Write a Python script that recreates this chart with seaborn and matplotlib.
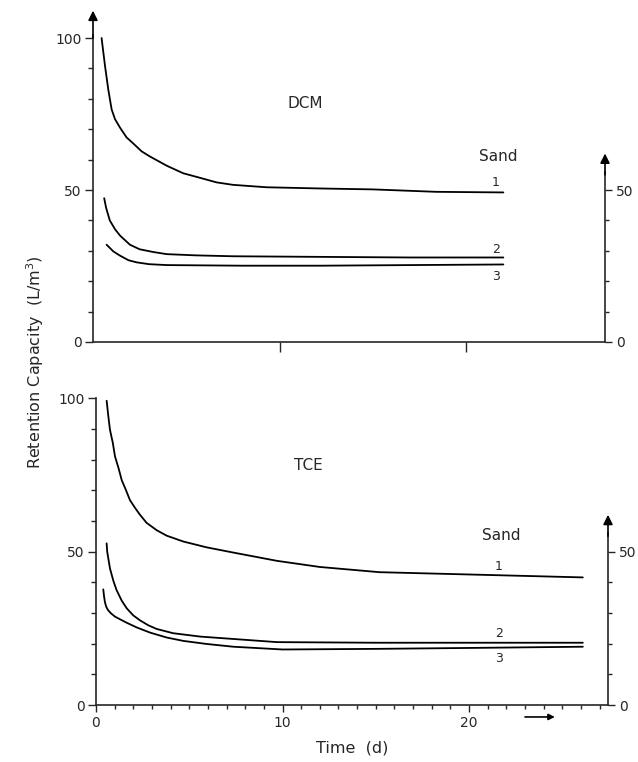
import numpy as np
import pandas as pd
import seaborn as sns
import matplotlib.pyplot as plt
from matplotlib.ticker import FixedLocator, NullFormatter

# DCM panel (top)
dcm_t1 = [0.46, 0.64, 0.82, 1.0, 1.18, 1.45, 1.8, 2.16, 2.61, 3.06, 3.95, 4.84, 5.74,
          6.63, 7.5, 9.3, 12.2, 15.0, 18.4, 22.0]
dcm_v1 = [100, 91, 83, 76.5, 73.3, 70.5, 67.3, 65.3, 62.7, 61, 58, 55.5, 54,
          52.5, 51.7, 50.9, 50.5, 50.2, 49.4, 49.2]
dcm_t2 = [0.6, 0.7, 0.9, 1.18, 1.45, 1.98, 2.5, 3.23, 3.95, 5.5, 7.5, 12.2, 17.0, 22.0]
dcm_v2 = [47.3, 44.2, 40, 37.1, 35, 32, 30.5, 29.6, 28.9, 28.5, 28.2, 28.0, 27.8, 27.8]
dcm_t3 = [0.73, 1.09, 1.45, 1.9, 2.34, 3.0, 3.95, 8.0, 12.2, 17.0, 22.0]
dcm_v3 = [32, 29.8, 28.4, 26.9, 26.2, 25.6, 25.3, 25.1, 25.1, 25.3, 25.5]

# TCE panel (bottom)
tce_t1 = [0.57, 0.66, 0.75, 0.9, 1.02, 1.2, 1.38, 1.59, 1.82, 2.09, 2.36, 2.71, 3.25,
          3.79, 4.68, 5.93, 7.36, 9.7, 12.0, 15.2, 19.7, 26.1]
tce_v1 = [99.2, 94.2, 89.7, 85.5, 81, 77.4, 73.3, 70.3, 66.8, 64.3, 62, 59.4, 57,
          55.2, 53.3, 51.4, 49.7, 47, 45, 43.3, 42.6, 41.6]
tce_t2 = [0.57, 0.6, 0.75, 0.93, 1.1, 1.38, 1.65, 2.0, 2.36, 2.8, 3.25, 4.14, 5.6, 9.7,
          15.0, 20.0, 26.1]
tce_v2 = [52.7, 50, 44.5, 40.5, 37.5, 34, 31.5, 29.2, 27.6, 26.0, 24.8, 23.4, 22.3, 20.5,
          20.3, 20.3, 20.3]
tce_t3 = [0.39, 0.43, 0.48, 0.55, 0.65, 0.8, 1.02, 1.65, 2.18, 2.9, 3.79, 4.68, 5.93, 7.36,
          10.0, 15.0, 20.0, 26.1]
tce_v3 = [37.7, 35.5, 33.5, 32.0, 30.9, 29.9, 28.8, 26.8, 25.3, 23.6, 22.0, 20.9, 19.9, 19.0,
          18.1, 18.3, 18.6, 19.0]

sand_labels = ['1', '2', '3']
x_ticks = [0, 10, 20]


def long_form(ts, vs):
    frames = []
    for lab, t, v in zip(sand_labels, ts, vs):
        frames.append(pd.DataFrame({'time': t, 'cap': v, 'sand': lab}))
    return pd.concat(frames, ignore_index=True)


dcm = long_form([dcm_t1, dcm_t2, dcm_t3], [dcm_v1, dcm_v2, dcm_v3])
tce = long_form([tce_t1, tce_t2, tce_t3], [tce_v1, tce_v2, tce_v3])

sns.set_style('ticks')
plt.rcParams['font.family'] = ['DejaVu Sans']
plt.rcParams['font.size'] = 10

XMAX = 27.45
fig = plt.figure(figsize=(6.38, 7.62), dpi=100)
ax_top = fig.add_axes([93 / 638, 0.5512, 512 / 638, 0.4388])
ax_bot = fig.add_axes([96 / 638, 0.0748, 512 / 638, 319 / 762])


def style_panel(ax, df, ymax, left_arrow, name, name_y, sand_y, num_y, bottom):
    ax.set_facecolor('none')
    sns.lineplot(data=df, x='time', y='cap', units='sand', estimator=None,
                 color='black', linewidth=1.3, ax=ax, legend=False)
    ax.set_xlim(0, XMAX)
    ax.set_ylim(0, ymax)
    ax.set_xlabel('')
    ax.set_ylabel('')
    ax.spines['top'].set_visible(False)
    ax.spines['right'].set_visible(False)
    for s in ('left', 'bottom'):
        ax.spines[s].set_linewidth(1.2)
    ax.spines['left'].set_bounds(0, 101 if left_arrow else 100)
    ax.set_yticks([0, 50, 100])
    ax.yaxis.set_minor_locator(FixedLocator([10, 20, 30, 40, 60, 70, 80, 90]))
    ax.tick_params(axis='y', which='major', length=6, width=1.0, labelsize=10, pad=2)
    ax.tick_params(axis='y', which='minor', length=3.5, width=1.0)
    if bottom:
        ax.set_xticks(x_ticks)
        ax.xaxis.set_minor_locator(FixedLocator(np.arange(1, 28, 1)))
        ax.tick_params(axis='x', which='major', length=5, width=1.0, labelsize=10, pad=3)
        ax.tick_params(axis='x', which='minor', length=3, width=1.0)
    else:
        ax.set_xticks([10, 20])
        ax.xaxis.set_major_formatter(NullFormatter())
        ax.tick_params(axis='x', which='major', length=7, width=1.0)
    if left_arrow:
        ax.annotate('', xy=(0, 109), xytext=(0, 100),
                    arrowprops=dict(arrowstyle='-|>', color='black', lw=1.2,
                                    mutation_scale=14, shrinkA=0, shrinkB=0),
                    annotation_clip=False)

    # right hand axis
    axr = ax.twinx()
    axr.set_ylim(0, ymax)
    for s in ('top', 'left', 'bottom'):
        axr.spines[s].set_visible(False)
    axr.spines['right'].set_linewidth(1.2)
    axr.spines['right'].set_bounds(0, 56)
    axr.set_yticks([0, 50])
    axr.yaxis.set_minor_locator(FixedLocator([10, 20, 30, 40]))
    axr.tick_params(axis='y', which='major', length=5, width=1.0, labelsize=10, pad=3)
    axr.tick_params(axis='y', which='minor', length=3, width=1.0)
    axr.annotate('', xy=(XMAX, 62), xytext=(XMAX, 55),
                 arrowprops=dict(arrowstyle='-|>', color='black', lw=1.2,
                                 mutation_scale=14, shrinkA=0, shrinkB=0),
                 annotation_clip=False)

    ax.text(11.4, name_y, name, ha='center', va='center', fontsize=11)
    ax.text(21.7, sand_y, 'Sand', ha='center', va='center', fontsize=11)
    for lab, y in zip(sand_labels, num_y):
        ax.text(21.6, y, lab, ha='center', va='center', fontsize=9)


style_panel(ax_top, dcm, 110, True, 'DCM', 78.5, 61, [52.5, 30.5, 21.5], False)
style_panel(ax_bot, tce, 104, False, 'TCE', 78, 55.4, [45.3, 23.4, 15.3], True)

ax_bot.annotate('', xy=(24.6, -3.9), xytext=(23.0, -3.9),
                arrowprops=dict(arrowstyle='-|>', color='black', lw=1.2,
                                mutation_scale=9, shrinkA=0, shrinkB=0),
                annotation_clip=False)

fig.text(0.055, 0.525, 'Retention Capacity  (L/m$^3$)', rotation=90,
         ha='center', va='center', fontsize=11.5)
fig.text(0.552, 0.018, 'Time  (d)', ha='center', va='center', fontsize=11.5)

fig.savefig('out.png', dpi=100)
